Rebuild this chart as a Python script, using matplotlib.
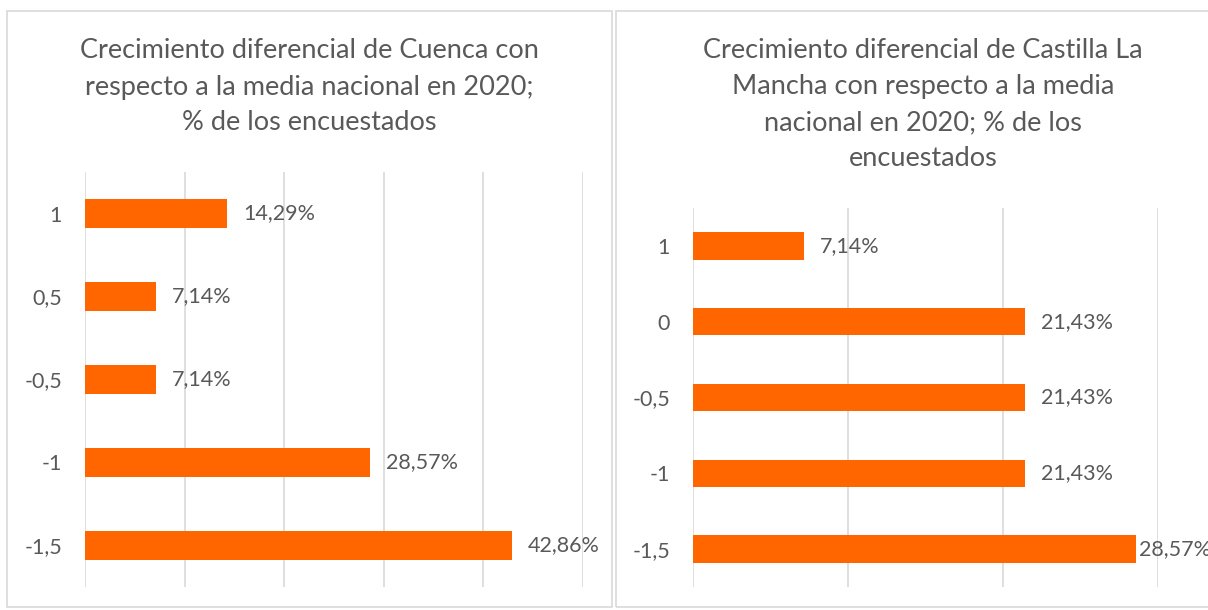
import matplotlib
matplotlib.use("Agg")
import matplotlib.pyplot as plt
from matplotlib.patches import Rectangle

# Datos de las dos encuestas
cuenca_cats = ['1', '0,5', '-0,5', '-1', '-1,5']
cuenca_vals = [14.29, 7.14, 7.14, 28.57, 42.86]

clm_cats = ['1', '0', '-0,5', '-1', '-1,5']
clm_vals = [7.14, 21.43, 21.43, 21.43, 28.57]

titulo_cuenca = "Crecimiento diferencial de Cuenca con\nrespecto a la media nacional en 2020;\n% de los encuestados"
titulo_clm = "Crecimiento diferencial de Castilla La\nMancha con respecto a la media\nnacional en 2020; % de los\nencuestados"

naranja = '#FF6600'
gris_texto = '#595959'
gris_linea = '#D9D9D9'

plt.rcParams['font.family'] = ['Lato', 'DejaVu Sans']

fig = plt.figure(figsize=(12.08, 6.10), dpi=100)
W, H = 1208, 610

# Marcos de cada gráfico
fig.patches.append(Rectangle((7 / W, 1 - 607 / H), 605 / W, 596 / H, transform=fig.transFigure,
                             fill=False, edgecolor=gris_linea, linewidth=1.2))
fig.patches.append(Rectangle((616 / W, 1 - 607 / H), 620 / W, 596 / H, transform=fig.transFigure,
                             fill=False, edgecolor=gris_linea, linewidth=1.2))


def barras(ax, cats, vals, xmax):
    pos = list(range(len(cats)))
    ax.barh(pos, vals, height=0.36, color=naranja, zorder=3)
    ax.set_ylim(len(cats) - 0.5, -0.5)
    ax.set_xlim(0, xmax)
    ax.set_yticks(pos)
    ax.set_yticklabels(cats)
    ax.set_xticks(range(0, xmax + 1, 10))
    ax.set_xticklabels([])
    ax.grid(axis='x', color=gris_linea, linewidth=1.2, zorder=0)
    ax.tick_params(axis='both', length=0, pad=16.5, labelsize=15.5, labelcolor=gris_texto)
    for s in ax.spines.values():
        s.set_visible(False)
    for p, v in zip(pos, vals):
        # las etiquetas pegadas al borde se acercan a la barra, como en Excel
        off = 2 if v > 0.9 * xmax else 11.5
        ax.annotate(f"{v:.2f}%".replace('.', ','), (v, p), xytext=(off, 0),
                    textcoords='offset points', va='center', ha='left',
                    fontsize=15.5, color=gris_texto, annotation_clip=False)


ax1 = fig.add_axes([85 / W, 1 - 587 / H, 498 / W, 415 / H])
barras(ax1, cuenca_cats, cuenca_vals, 50)

ax2 = fig.add_axes([693 / W, 1 - 587 / H, 465 / W, 379 / H])
barras(ax2, clm_cats, clm_vals, 30)

fig.text(309 / W, 1 - 87 / H, titulo_cuenca, ha='center', va='center', fontsize=19.5,
         color=gris_texto, linespacing=1.55)
fig.text(923 / W, 1 - 104.5 / H, titulo_clm, ha='center', va='center', fontsize=19.5,
         color=gris_texto, linespacing=1.55)

fig.savefig("out.png", dpi=100)
